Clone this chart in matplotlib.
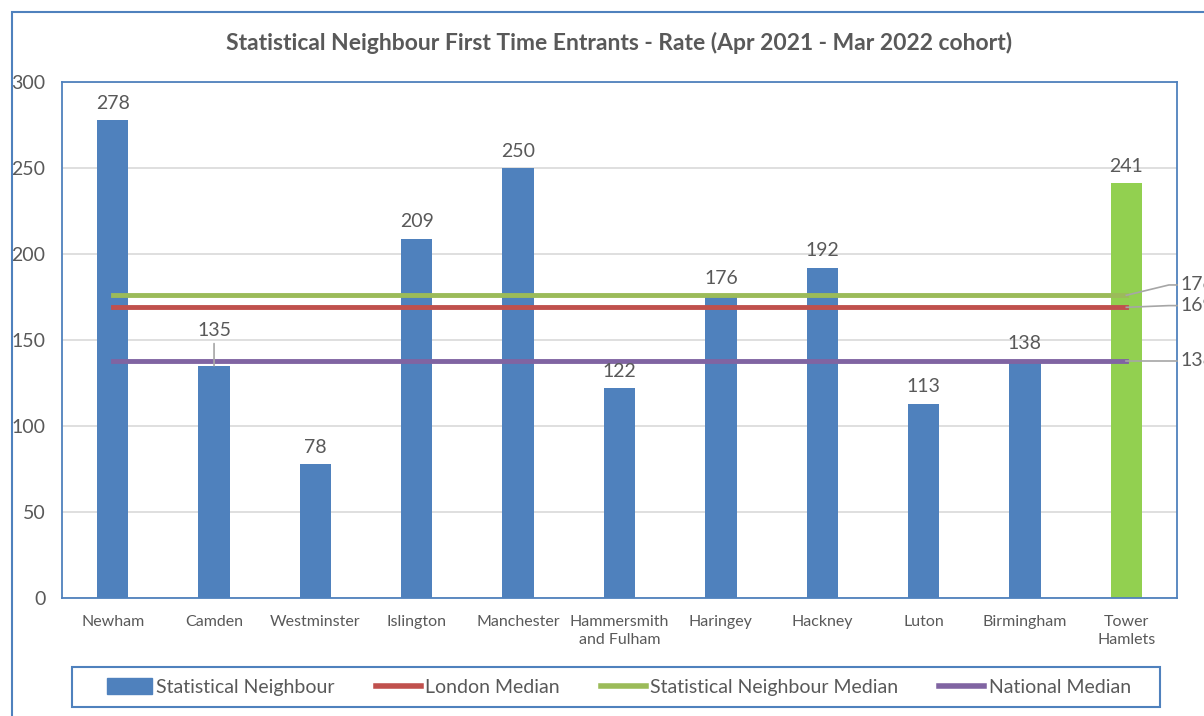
import matplotlib.pyplot as plt
from matplotlib.patches import Rectangle, Patch
from matplotlib.lines import Line2D

plt.rcParams['font.family'] = ['Lato', 'DejaVu Sans']

# -----------------------------------------------------------
#  data
# -----------------------------------------------------------
areas = ['Newham', 'Camden', 'Westminster', 'Islington', 'Manchester',
         'Hammersmith\nand Fulham', 'Haringey', 'Hackney', 'Luton',
         'Birmingham', 'Tower\nHamlets']
rates = [278, 135, 78, 209, 250, 122, 176, 192, 113, 138, 241]
london_median = 169
sn_median = 176
national_median = 138

BLUE = '#4F81BD'
GREEN_BAR = '#92D050'
RED = '#C0504D'
GREEN = '#9BBB59'
PURPLE = '#8064A2'
GREY = '#595959'
LEADER = '#A6A6A6'

fig = plt.figure(figsize=(12.04, 7.16), dpi=100)
ax = fig.add_axes([62 / 1204, 118 / 716, (1177 - 62) / 1204, (598 - 82) / 716])

# outer chart border
fig.patches.append(Rectangle((12 / 1204, -0.05), 1.2, (716 - 12) / 716 + 0.05,
                             transform=fig.transFigure, fill=False,
                             edgecolor=BLUE, lw=1.5))
# legend box
fig.patches.append(Rectangle((72 / 1204, 1 - 707 / 716), (1160 - 72) / 1204, 40 / 716,
                             transform=fig.transFigure, fill=False,
                             edgecolor=BLUE, lw=1.5))

x = list(range(len(areas)))
colors = [BLUE] * (len(areas) - 1) + [GREEN_BAR]
ax.bar(x, rates, width=0.31, color=colors, zorder=2)

xs = [x[0], x[-1]]
ax.plot(xs, [sn_median] * 2, color=GREEN, lw=3.5, zorder=3)
ax.plot(xs, [london_median] * 2, color=RED, lw=3.5, zorder=3)
ax.plot(xs, [national_median] * 2, color=PURPLE, lw=3.5, zorder=3)

# value labels
for xi, v in zip(x, rates):
    if areas[xi] == 'Camden':
        ax.annotate(str(v), xy=(xi, v), xytext=(0, 19), textcoords='offset points',
                    ha='center', va='bottom', fontsize=14, color=GREY,
                    arrowprops=dict(arrowstyle='-', color=LEADER, lw=1.2,
                                    shrinkA=1, shrinkB=0))
    else:
        ax.annotate(str(v), xy=(xi, v), xytext=(0, 6), textcoords='offset points',
                    ha='center', va='bottom', fontsize=14, color=GREY)

# right-hand median labels with leader lines
for val, ty in [(sn_median, 182), (london_median, 170), (national_median, 138)]:
    ax.plot([x[-1], 10.42, 10.5], [val, ty, ty], color=LEADER, lw=1.2,
            clip_on=False, zorder=4)
    ax.text(10.53, ty, str(val), ha='left', va='center', fontsize=14, color=GREY,
            clip_on=False)

ax.set_title('Statistical Neighbour First Time Entrants - Rate (Apr 2021 - Mar 2022 cohort)',
             fontsize=16.5, fontweight='bold', color=GREY, pad=23)

ax.set_xlim(-0.5, 10.5)
ax.set_ylim(0, 300)
ax.set_yticks(range(0, 301, 50))
ax.set_xticks(x)
ax.set_xticklabels(areas, fontsize=11.5, color=GREY, linespacing=1.35)
ax.tick_params(axis='both', length=0)
ax.tick_params(axis='y', labelsize=14, labelcolor=GREY, pad=12)
ax.tick_params(axis='x', pad=12)
ax.grid(True, axis='y', color='#D9D9D9', lw=1.2, zorder=0)
ax.set_axisbelow(True)
for s in ax.spines.values():
    s.set_color(BLUE)
    s.set_linewidth(1.3)

handles = [Patch(color=BLUE),
           Line2D([], [], color=RED, lw=4),
           Line2D([], [], color=GREEN, lw=4),
           Line2D([], [], color=PURPLE, lw=4)]
labels = ['Statistical Neighbour', 'London Median',
          'Statistical Neighbour Median', 'National Median']
leg = fig.legend(handles, labels, loc='center',
                 bbox_to_anchor=(619 / 1204, 1 - 687 / 716),
                 ncol=4, fontsize=14, frameon=False,
                 handlelength=2.3, handleheight=0.9, handletextpad=0.25,
                 columnspacing=2.1, borderpad=0.3, borderaxespad=0)
for t in leg.get_texts():
    t.set_color(GREY)

plt.savefig('out.png', dpi=100)
